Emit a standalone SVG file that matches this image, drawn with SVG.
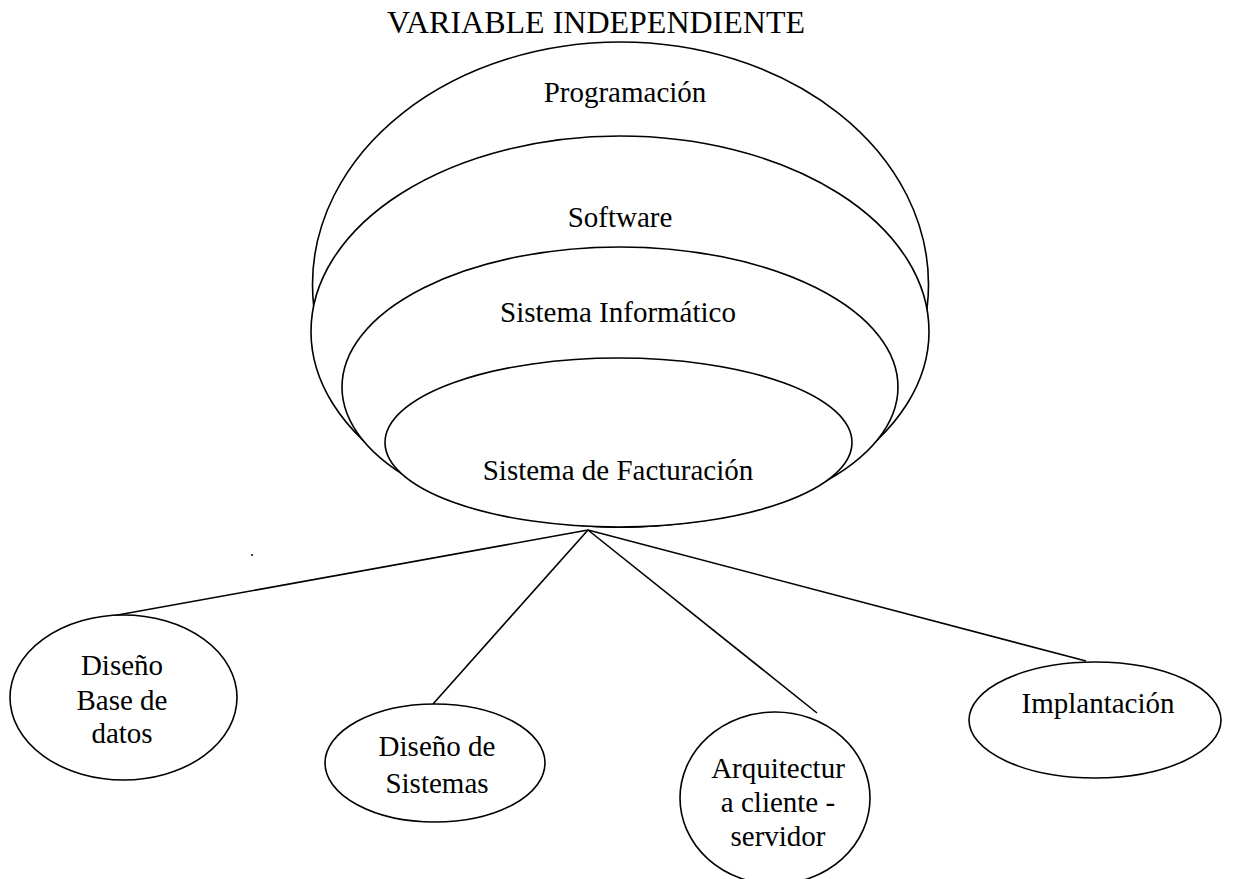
<svg xmlns="http://www.w3.org/2000/svg" width="1234" height="879" viewBox="0 0 1234 879">
<style>
  .shape { fill: #ffffff; stroke: #000000; stroke-width: 1.6; }
  .conn { stroke: #000000; stroke-width: 1.6; fill: none; }
  .lbl { font-family: "Liberation Serif", "Times New Roman", serif; font-size: 29px; fill: #000000; text-anchor: middle; }
</style>
<rect x="0" y="0" width="1234" height="879" fill="#ffffff"/>
<text id="title" class="lbl" x="596" y="33" style="font-size:32px">VARIABLE INDEPENDIENTE</text>
<g id="programacion">
  <ellipse class="shape" cx="620.5" cy="284.5" rx="308" ry="242.5"/>
  <text class="lbl" x="625" y="102">Programación</text>
</g>
<g id="software">
  <ellipse class="shape" cx="620" cy="331.5" rx="309" ry="195.5"/>
  <text class="lbl" x="620" y="227">Software</text>
</g>
<g id="sistema-informatico">
  <ellipse class="shape" cx="620" cy="387" rx="278" ry="140"/>
  <text class="lbl" x="618" y="322">Sistema Informático</text>
</g>
<g id="sistema-facturacion">
  <ellipse class="shape" cx="618.5" cy="442.5" rx="233.5" ry="84.5"/>
  <text class="lbl" x="618" y="480">Sistema de Facturación</text>
</g>
<g id="connectors">
  <line class="conn" x1="588" y1="530" x2="112" y2="616"/>
  <line class="conn" x1="588" y1="530" x2="433" y2="704"/>
  <line class="conn" x1="588" y1="530" x2="817" y2="713"/>
  <line class="conn" x1="588" y1="530" x2="1086" y2="661"/>
</g>
<g id="diseno-bd">
  <ellipse class="shape" cx="123.5" cy="697.5" rx="113.5" ry="82.5"/>
  <text class="lbl" x="122" y="675">Diseño</text>
  <text class="lbl" x="122" y="710">Base de</text>
  <text class="lbl" x="122" y="743">datos</text>
</g>
<g id="diseno-sistemas">
  <ellipse class="shape" cx="435" cy="763" rx="110" ry="59"/>
  <text class="lbl" x="437" y="756">Diseño de</text>
  <text class="lbl" x="437" y="793">Sistemas</text>
</g>
<g id="arquitectura">
  <ellipse class="shape" cx="775" cy="798" rx="95" ry="86"/>
  <text class="lbl" x="778" y="778">Arquitectur</text>
  <text class="lbl" x="778" y="812">a cliente -</text>
  <text class="lbl" x="778" y="846">servidor</text>
</g>
<g id="implantacion">
  <ellipse class="shape" cx="1095" cy="720" rx="126" ry="58"/>
  <text class="lbl" x="1098" y="713">Implantación</text>
</g>
<text id="dot" class="lbl" x="252" y="556" style="font-size:16px">.</text>
</svg>
